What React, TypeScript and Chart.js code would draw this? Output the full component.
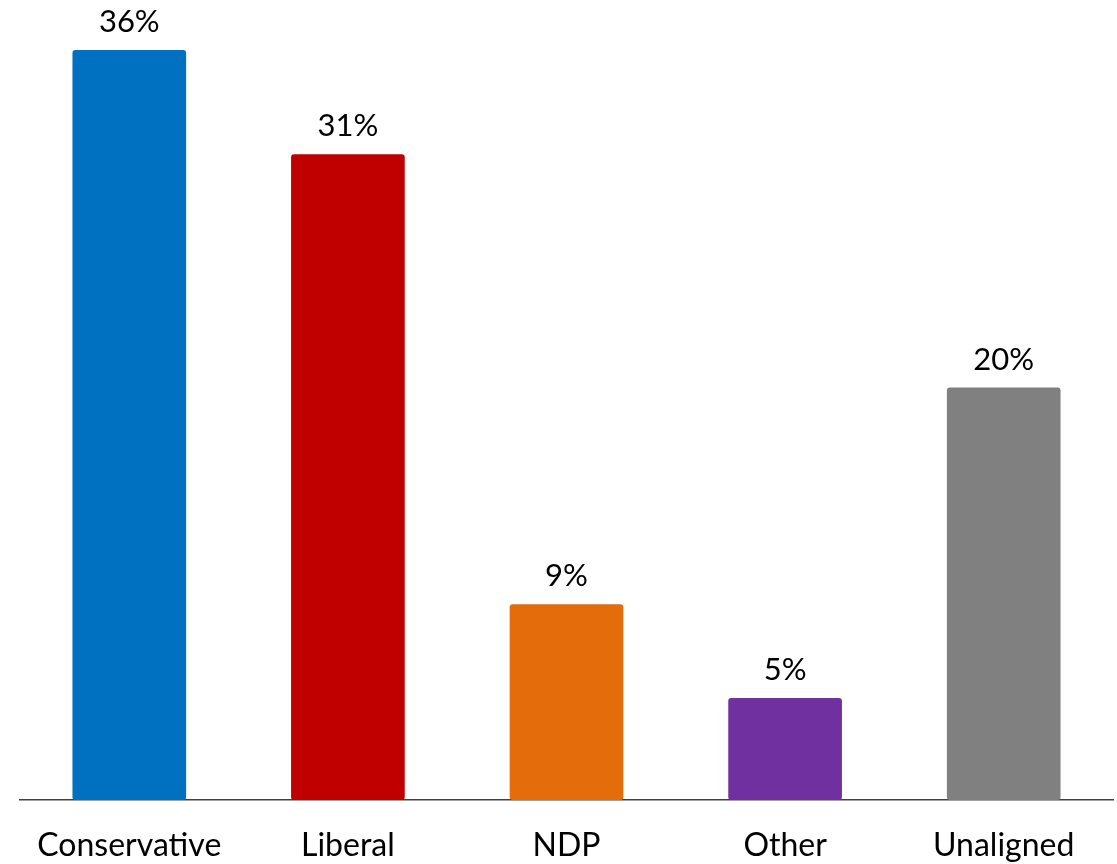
import React, { useEffect, useRef } from "react";
import { Chart, registerables } from "chart.js";

Chart.register(...registerables);

const categories = ["Conservative", "Liberal", "NDP", "Other", "Unaligned"];
const values = [36, 31, 9.4, 4.9, 19.8];
const barColors = ["#0070C0", "#C00000", "#E46C0A", "#7030A0", "#808080"];
const FONT = "Lato";

const dataLabelPlugin = {
  id: "dataLabels",
  afterDatasetsDraw(chart: any) {
    const ctx = chart.ctx;
    const meta = chart.getDatasetMeta(0);
    ctx.save();
    ctx.font = `31px ${FONT}`;
    ctx.fillStyle = "#000000";
    ctx.textAlign = "center";
    ctx.textBaseline = "alphabetic";
    meta.data.forEach((bar: any, i: number) => {
      const v = chart.data.datasets[0].data[i] as number;
      ctx.fillText(`${Math.round(v)}%`, bar.x, bar.y - 18);
    });
    ctx.restore();
  },
};

export default function App() {
  const ref = useRef<HTMLCanvasElement | null>(null);
  useEffect(() => {
    if (!ref.current) return;
    const chart = new Chart(ref.current, {
      type: "bar",
      data: {
        labels: categories,
        datasets: [
          {
            data: values,
            backgroundColor: barColors,
            borderRadius: 3,
            borderSkipped: false,
            barPercentage: 0.52,
            categoryPercentage: 1,
          },
        ],
      },
      options: {
        responsive: false,
        animation: false,
        layout: { padding: { top: 50, left: 20, right: 4, bottom: 0 } },
        plugins: { legend: { display: false }, tooltip: { enabled: false } },
        scales: {
          x: {
            grid: { display: false, drawTicks: false },
            border: { display: true, color: "#404040", width: 1.5 },
            ticks: {
              color: "#000000",
              font: { family: FONT, size: 32 },
              padding: 26,
              maxRotation: 0,
              autoSkip: false,
            },
            afterFit(scale: any) {
              scale.height = 64;
            },
          },
          y: {
            display: false,
            min: 0,
            max: 36,
          },
        },
      },
      plugins: [dataLabelPlugin],
    });
    return () => chart.destroy();
  }, []);
  return (
    <div style={{ position: "absolute", left: 0, top: 0, width: 1117, height: 864, background: "#fff" }}>
      <canvas ref={ref} width={1117} height={864} style={{ display: "block" }} />
    </div>
  );
}
